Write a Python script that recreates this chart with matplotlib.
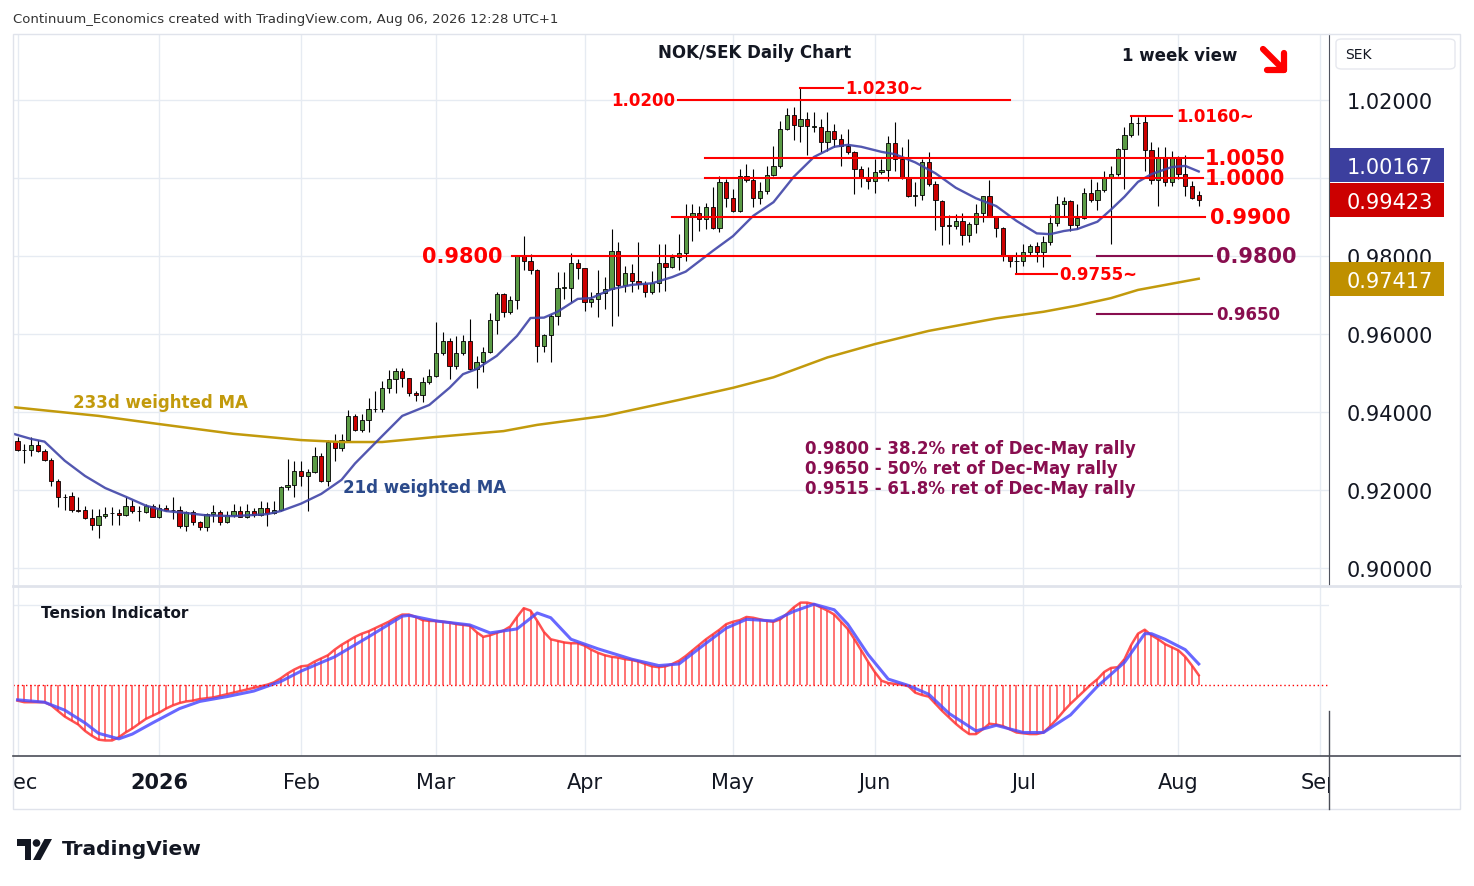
"""NOK/SEK daily chart, TradingView style."""

import matplotlib
matplotlib.use('Agg')
import matplotlib.pyplot as plt
from matplotlib.lines import Line2D
from matplotlib.patches import Rectangle, FancyBboxPatch, Polygon, Circle
import numpy as np
import pandas as pd

# FX trading days on the chart (Xmas / New Year gaps)
holidays = ['2025-12-25', '2025-12-26', '2026-01-01']

opens = [
  0.9325, 0.9303, 0.9303, 0.9315, 0.9299, 0.9278, 0.9222, 0.9182, 0.9184, 0.9148,
  0.9149, 0.9127, 0.9111, 0.9133, 0.9140, 0.9140, 0.9135, 0.9159, 0.9145, 0.9143,
  0.9159, 0.9132, 0.9153, 0.9149, 0.9149, 0.9107, 0.9143, 0.9117, 0.9104, 0.9138,
  0.9143, 0.9117, 0.9135, 0.9145, 0.9131, 0.9145, 0.9135, 0.9155, 0.9141, 0.9148,
  0.9207, 0.9213, 0.9248, 0.9235, 0.9245, 0.9286, 0.9224, 0.9322, 0.9308, 0.9329,
  0.9391, 0.9354, 0.9380, 0.9407, 0.9407, 0.9462, 0.9484, 0.9506, 0.9486, 0.9448,
  0.9444, 0.9478, 0.9492, 0.9550, 0.9581, 0.9517, 0.9550, 0.9581, 0.9509, 0.9527,
  0.9554, 0.9636, 0.9702, 0.9656, 0.9687, 0.9799, 0.9788, 0.9765, 0.9568, 0.9597,
  0.9647, 0.9719, 0.9719, 0.9781, 0.9768, 0.9681, 0.9690, 0.9705, 0.9715, 0.9814,
  0.9726, 0.9756, 0.9735, 0.9728, 0.9707, 0.9730, 0.9782, 0.9771, 0.9797, 0.9808,
  0.9901, 0.9909, 0.9895, 0.9925, 0.9871, 0.9989, 0.9948, 0.9916, 1.0006, 0.9995,
  0.9948, 0.9966, 1.0008, 1.0030, 1.0126, 1.0162, 1.0133, 1.0151, 1.0132, 1.0130,
  1.0091, 1.0121, 1.0100, 1.0083, 1.0066, 1.0023, 1.0000, 0.9993, 1.0016, 1.0020,
  1.0089, 1.0049, 1.0000, 0.9955, 0.9956, 1.0042, 0.9985, 0.9942, 0.9878, 0.9877,
  0.9891, 0.9854, 0.9882, 0.9909, 0.9953, 0.9901, 0.9873, 0.9801, 0.9787, 0.9788,
  0.9809, 0.9825, 0.9809, 0.9837, 0.9884, 0.9933, 0.9942, 0.9880, 0.9897, 0.9961,
  0.9944, 0.9969, 0.9999, 1.0010, 1.0074, 1.0110, 1.0141, 1.0144, 1.0073, 0.9996,
  1.0051, 0.9989, 1.0051, 1.0010, 0.9980, 0.9956]

highs = [
  0.9335, 0.9318, 0.9335, 0.9328, 0.9305, 0.9282, 0.9228, 0.9190, 0.9196, 0.9181,
  0.9159, 0.9151, 0.9151, 0.9157, 0.9157, 0.9151, 0.9181, 0.9175, 0.9159, 0.9164,
  0.9164, 0.9164, 0.9161, 0.9181, 0.9160, 0.9147, 0.9149, 0.9121, 0.9140, 0.9162,
  0.9149, 0.9147, 0.9163, 0.9160, 0.9164, 0.9155, 0.9171, 0.9168, 0.9173, 0.9211,
  0.9280, 0.9275, 0.9275, 0.9254, 0.9309, 0.9296, 0.9328, 0.9343, 0.9344, 0.9405,
  0.9395, 0.9395, 0.9435, 0.9455, 0.9480, 0.9508, 0.9514, 0.9514, 0.9488, 0.9455,
  0.9489, 0.9510, 0.9630, 0.9604, 0.9591, 0.9595, 0.9597, 0.9638, 0.9544, 0.9566,
  0.9654, 0.9707, 0.9704, 0.9698, 0.9801, 0.9852, 0.9805, 0.9767, 0.9599, 0.9651,
  0.9760, 0.9760, 0.9808, 0.9792, 0.9770, 0.9707, 0.9765, 0.9745, 0.9870, 0.9835,
  0.9775, 0.9779, 0.9835, 0.9737, 0.9762, 0.9831, 0.9831, 0.9805, 0.9857, 0.9933,
  0.9933, 0.9929, 0.9936, 0.9976, 1.0006, 0.9998, 0.9972, 1.0023, 1.0036, 1.0023,
  0.9989, 1.0030, 1.0083, 1.0147, 1.0179, 1.0181, 1.0230, 1.0168, 1.0168, 1.0151,
  1.0168, 1.0138, 1.0113, 1.0126, 1.0070, 1.0032, 1.0027, 1.0049, 1.0049, 1.0108,
  1.0143, 1.0079, 1.0100, 0.9989, 1.0049, 1.0066, 0.9993, 0.9944, 0.9905, 0.9908,
  0.9910, 0.9886, 0.9933, 0.9955, 0.9996, 0.9903, 0.9875, 0.9803, 0.9809, 0.9831,
  0.9831, 0.9835, 0.9852, 0.9904, 0.9953, 0.9950, 0.9944, 0.9934, 0.9974, 0.9998,
  0.9989, 1.0019, 1.0032, 1.0076, 1.0130, 1.0160, 1.0156, 1.0161, 1.0093, 1.0079,
  1.0079, 1.0068, 1.0057, 1.0059, 0.9993, 0.9967]

lows = [
  0.9301, 0.9268, 0.9286, 0.9297, 0.9274, 0.9211, 0.9157, 0.9149, 0.9143, 0.9143,
  0.9125, 0.9098, 0.9076, 0.9127, 0.9111, 0.9111, 0.9134, 0.9141, 0.9120, 0.9141,
  0.9130, 0.9127, 0.9145, 0.9126, 0.9102, 0.9096, 0.9111, 0.9098, 0.9096, 0.9117,
  0.9111, 0.9115, 0.9132, 0.9130, 0.9128, 0.9132, 0.9134, 0.9108, 0.9138, 0.9145,
  0.9199, 0.9181, 0.9211, 0.9145, 0.9244, 0.9220, 0.9209, 0.9275, 0.9301, 0.9329,
  0.9350, 0.9348, 0.9348, 0.9399, 0.9399, 0.9448, 0.9448, 0.9463, 0.9442, 0.9429,
  0.9426, 0.9472, 0.9490, 0.9546, 0.9485, 0.9510, 0.9546, 0.9507, 0.9461, 0.9503,
  0.9552, 0.9600, 0.9643, 0.9651, 0.9664, 0.9765, 0.9754, 0.9527, 0.9555, 0.9527,
  0.9622, 0.9691, 0.9681, 0.9741, 0.9660, 0.9668, 0.9643, 0.9664, 0.9621, 0.9645,
  0.9707, 0.9707, 0.9715, 0.9696, 0.9703, 0.9707, 0.9711, 0.9769, 0.9765, 0.9788,
  0.9839, 0.9865, 0.9869, 0.9869, 0.9862, 0.9925, 0.9914, 0.9914, 0.9989, 0.9925,
  0.9933, 0.9959, 1.0006, 1.0025, 1.0124, 1.0098, 1.0093, 1.0059, 1.0117, 1.0066,
  1.0070, 1.0079, 1.0030, 1.0062, 0.9959, 0.9976, 0.9972, 0.9962, 1.0010, 0.9993,
  1.0019, 0.9998, 0.9951, 0.9927, 0.9944, 0.9980, 0.9867, 0.9827, 0.9831, 0.9869,
  0.9829, 0.9836, 0.9860, 0.9886, 0.9899, 0.9848, 0.9788, 0.9771, 0.9756, 0.9775,
  0.9801, 0.9784, 0.9771, 0.9827, 0.9878, 0.9900, 0.9865, 0.9869, 0.9895, 0.9938,
  0.9919, 0.9963, 0.9831, 1.0004, 0.9972, 1.0104, 1.0110, 1.0019, 0.9985, 0.9927,
  0.9980, 0.9980, 0.9998, 0.9953, 0.9946, 0.9929]

closes = [
  0.9303, 0.9302, 0.9315, 0.9299, 0.9276, 0.9222, 0.9181, 0.9181, 0.9149, 0.9147,
  0.9127, 0.9111, 0.9133, 0.9138, 0.9140, 0.9135, 0.9159, 0.9145, 0.9145, 0.9159,
  0.9132, 0.9153, 0.9149, 0.9148, 0.9107, 0.9143, 0.9117, 0.9104, 0.9138, 0.9143,
  0.9117, 0.9135, 0.9145, 0.9131, 0.9145, 0.9135, 0.9155, 0.9141, 0.9148, 0.9207,
  0.9213, 0.9248, 0.9235, 0.9245, 0.9286, 0.9224, 0.9322, 0.9308, 0.9329, 0.9391,
  0.9354, 0.9380, 0.9407, 0.9407, 0.9462, 0.9484, 0.9506, 0.9486, 0.9448, 0.9444,
  0.9478, 0.9492, 0.9550, 0.9581, 0.9517, 0.9550, 0.9581, 0.9509, 0.9527, 0.9554,
  0.9636, 0.9702, 0.9656, 0.9687, 0.9799, 0.9788, 0.9765, 0.9568, 0.9597, 0.9647,
  0.9719, 0.9719, 0.9781, 0.9768, 0.9683, 0.9690, 0.9705, 0.9715, 0.9814, 0.9726,
  0.9756, 0.9735, 0.9728, 0.9707, 0.9730, 0.9782, 0.9771, 0.9797, 0.9808, 0.9901,
  0.9909, 0.9895, 0.9925, 0.9871, 0.9989, 0.9948, 0.9916, 1.0006, 0.9995, 0.9948,
  0.9966, 1.0008, 1.0030, 1.0126, 1.0162, 1.0136, 1.0151, 1.0133, 1.0132, 1.0091,
  1.0121, 1.0100, 1.0083, 1.0066, 1.0023, 1.0000, 0.9993, 1.0016, 1.0020, 1.0089,
  1.0049, 1.0000, 0.9953, 0.9956, 1.0042, 0.9985, 0.9944, 0.9878, 0.9877, 0.9891,
  0.9854, 0.9882, 0.9909, 0.9953, 0.9901, 0.9873, 0.9801, 0.9786, 0.9788, 0.9809,
  0.9825, 0.9809, 0.9837, 0.9884, 0.9933, 0.9942, 0.9880, 0.9897, 0.9961, 0.9944,
  0.9969, 0.9999, 1.0010, 1.0074, 1.0110, 1.0141, 1.0142, 1.0073, 0.9996, 1.0051,
  0.9989, 1.0051, 1.0010, 0.9980, 0.9948, 0.99423]

# 21d weighted MA (bar index, value)
ma21_idx = [-1, 2, 4, 7, 10, 13, 16, 19, 22, 25, 28, 32, 37, 39, 42, 45, 48, 50, 54, 57,
            61, 64, 66, 68, 71, 74, 76, 78, 80, 83, 85, 88, 91, 94, 97, 99, 103, 106, 109, 112,
            115, 118, 121, 123, 125, 128, 130, 133, 136, 139, 142, 145, 148, 151, 153, 155, 157, 160, 162, 164,
            166, 168, 171, 173, 175]
ma21_val = [0.9346, 0.9331, 0.9324, 0.9275, 0.9236, 0.9205, 0.9183, 0.9160, 0.9146, 0.9141,
            0.9135, 0.9133, 0.9138, 0.9146, 0.9165, 0.9190, 0.9226, 0.9268, 0.9338, 0.9390,
            0.9418, 0.9462, 0.9497, 0.9510, 0.9544, 0.9595, 0.9641, 0.9642, 0.9657, 0.9690,
            0.9692, 0.9715, 0.9726, 0.9730, 0.9746, 0.9760, 0.9813, 0.9851, 0.9903, 0.9938,
            1.0003, 1.0054, 1.0080, 1.0085, 1.0080, 1.0067, 1.0061, 1.0040, 1.0012, 0.9975,
            0.9948, 0.9928, 0.9890, 0.9858, 0.9856, 0.9864, 0.9869, 0.9888, 0.9919, 0.9952,
            0.9990, 1.0010, 1.0028, 1.0031, 1.00167]

# 233d weighted MA
ma233_idx = [-1, 12, 21, 32, 42, 48, 54, 62, 72, 77, 87, 98, 106, 112, 120, 127, 135, 145, 152, 157,
             162, 166, 175]
ma233_val = [0.9413, 0.9390, 0.9369, 0.9344, 0.9328, 0.9323, 0.9323, 0.9336, 0.9351, 0.9367,
             0.9390, 0.9431, 0.9462, 0.9489, 0.9540, 0.9574, 0.9608, 0.9640, 0.9657, 0.9673,
             0.9692, 0.9713, 0.97417]

# Tension indicator (histogram value per bar) and its signal line
tension = [
  -0.20, -0.22, -0.22, -0.22, -0.22, -0.26, -0.33, -0.40, -0.45, -0.50,
  -0.58, -0.64, -0.69, -0.70, -0.70, -0.66, -0.60, -0.55, -0.49, -0.43,
  -0.39, -0.35, -0.30, -0.26, -0.23, -0.21, -0.20, -0.18, -0.17, -0.16,
  -0.14, -0.12, -0.10, -0.08, -0.06, -0.04, -0.02, 0.00, 0.03, 0.08,
  0.14, 0.19, 0.23, 0.24, 0.29, 0.33, 0.37, 0.44, 0.50, 0.55,
  0.60, 0.64, 0.67, 0.71, 0.75, 0.79, 0.84, 0.88, 0.88, 0.85,
  0.81, 0.80, 0.80, 0.79, 0.78, 0.76, 0.75, 0.74, 0.66, 0.60,
  0.62, 0.65, 0.68, 0.73, 0.85, 0.96, 0.93, 0.80, 0.66, 0.57,
  0.55, 0.53, 0.52, 0.52, 0.49, 0.44, 0.40, 0.37, 0.35, 0.34,
  0.32, 0.31, 0.29, 0.26, 0.23, 0.22, 0.23, 0.26, 0.30, 0.36,
  0.43, 0.50, 0.57, 0.63, 0.69, 0.76, 0.79, 0.81, 0.85, 0.84,
  0.82, 0.80, 0.79, 0.82, 0.89, 0.97, 1.03, 1.03, 1.01, 0.97,
  0.93, 0.88, 0.79, 0.70, 0.57, 0.43, 0.29, 0.16, 0.05, 0.02,
  0.01, 0.00, -0.02, -0.10, -0.13, -0.15, -0.24, -0.33, -0.41, -0.49,
  -0.56, -0.62, -0.62, -0.56, -0.49, -0.50, -0.52, -0.56, -0.60, -0.61,
  -0.62, -0.62, -0.60, -0.52, -0.43, -0.33, -0.24, -0.16, -0.08, 0.00,
  0.07, 0.16, 0.21, 0.22, 0.32, 0.50, 0.64, 0.69, 0.62, 0.57,
  0.51, 0.47, 0.43, 0.35, 0.24, 0.12]
signal_idx = [0, 4, 7, 10, 12, 15, 17, 20, 24, 27, 31, 35, 39, 42, 47, 52, 57, 58, 62, 67,
              70, 74, 77, 79, 82, 86, 91, 95, 98, 102, 105, 108, 112, 115, 118, 121, 123, 126, 129, 132,
              135, 138, 142, 145, 149, 152, 156, 160, 164, 167, 168, 170, 173, 175]
signal_val = [-0.19, -0.22, -0.32, -0.48, -0.61, -0.68, -0.62, -0.48, -0.30, -0.21,
              -0.15, -0.08, 0.04, 0.17, 0.35, 0.60, 0.86, 0.87, 0.80, 0.75,
              0.65, 0.70, 0.90, 0.84, 0.57, 0.45, 0.32, 0.24, 0.26, 0.52,
              0.71, 0.82, 0.80, 0.92, 1.01, 0.94, 0.76, 0.38, 0.07, -0.01,
              -0.12, -0.36, -0.58, -0.51, -0.60, -0.60, -0.38, -0.02, 0.28, 0.64,
              0.64, 0.57, 0.44, 0.26]

# key levels
resistance = [1.0200, 1.0050, 1.0000]
support = [0.9900, 0.9800]
swing_high = [1.0230, 1.0160]
swing_low = [0.9755]
retrace_val = [0.9800, 0.9650, 0.9515]
retrace_pct = ['38.2%', '50%', '61.8%']

price_ticks = [0.90, 0.92, 0.94, 0.96, 0.98, 1.00, 1.02]


W, H = 1474, 887
RED = '#ff0000'
MAROON = '#880e4f'
GOLD = '#c29a0c'
NAVY = '#4045a8'
GRID = '#e6ebf2'
INK = '#131722'

def fbox(x0, y0, x1, y1):
  # pixel box (top-left origin) -> figure rect
  return [x0/W, 1 - y1/H, (x1-x0)/W, (y1-y0)/H]

def fpt(x, y):
  return x/W, 1 - y/H

def fig_line(pts, **kw):
  xs, ys = zip(*[fpt(*p) for p in pts])
  fig.add_artist(Line2D(xs, ys, transform=fig.transFigure, **kw))


days = pd.bdate_range('2025-12-01', '2026-09-30')
days = days[~days.isin(pd.to_datetime(holidays))]
x = np.arange(len(closes))
month_pos = [i for i in range(len(days)) if i == 0 or days[i].month != days[i-1].month]
month_lab = ['2026' if days[i].month == 1 else days[i].strftime('%b') for i in month_pos]
xlim = (-0.67, 194.3)

fig = plt.figure(figsize=(W/100, H/100), dpi=100)
fig.patch.set_facecolor('white')

# ---------------- main price pane ----------------
ax = fig.add_axes(fbox(13, 35, 1329, 586))
ax.set_xlim(*xlim)
ax.set_ylim(0.89564, 1.03692)
for s in ['top', 'left', 'bottom']:
  ax.spines[s].set_visible(False)
ax.spines['right'].set_color('#50535e')
ax.set_xticks(month_pos)
ax.set_yticks(price_ticks)
ax.yaxis.tick_right()
ax.tick_params(axis='x', length=0, labelbottom=False)
ax.tick_params(axis='y', length=0, pad=13, labelsize=15, labelcolor=INK)
ax.grid(color=GRID, lw=1)
ax.set_axisbelow(True)

o, h, l, c = map(np.array, (opens, highs, lows, closes))
up = c >= o
body_col = np.where(up, '#5b9b45', '#cc0000')
ax.vlines(x, l, h, color='black', lw=0.8, zorder=3)
ax.bar(x, np.maximum(np.abs(c - o), 0.00012), bottom=np.minimum(o, c), width=0.66,
       color=body_col, edgecolor='black', lw=0.6, zorder=4)

ax.plot(ma233_idx, ma233_val, color=GOLD, lw=1.8, zorder=5)
ax.plot(ma21_idx, ma21_val, color=NAVY, lw=1.7, alpha=0.9, zorder=5)

# level lines: (value, start, end, label x, ha, size)
lev_red = [
  (resistance[0], 97.9, 147.0, 97.4, 'right', 12, f'{resistance[0]:.4f}'),
  (resistance[1], 101.9, 175.6, 175.9, 'left', 15, f'{resistance[1]:.4f}'),
  (resistance[2], 101.9, 175.6, 175.9, 'left', 15, f'{resistance[2]:.4f}'),
  (support[0], 96.9, 175.9, 176.6, 'left', 15, f'{support[0]:.4f}'),
  (support[1], 73.3, 155.9, 71.8, 'right', 15, f'{support[1]:.4f}'),
  (swing_high[0], 116.0, 122.3, 122.6, 'left', 12, f'{swing_high[0]:.4f}~'),
  (swing_high[1], 165.0, 171.0, 171.6, 'left', 12, f'{swing_high[1]:.4f}~'),
  (swing_low[0], 147.9, 154.0, 154.4, 'left', 12, f'{swing_low[0]:.4f}~'),
]
for v, a, b, tx, ha, fs, lab in lev_red:
  ax.plot([a, b], [v, v], color=RED, lw=1.5, zorder=6)
  ax.text(tx, v, lab, color=RED, ha=ha, va='center', fontsize=fs, fontweight='bold', zorder=7)

for v, fs in zip(retrace_val[:2], [15, 12]):
  ax.plot([159.9, 177.0], [v, v], color=MAROON, lw=1.5, zorder=6)
  ax.text(177.6, v, f'{v:.4f}', color=MAROON, ha='left', va='center', fontsize=fs,
          fontweight='bold', zorder=7)

for i, (v, pct) in enumerate(zip(retrace_val, retrace_pct)):
  ax.text(0.6018, 0.2486 - i*0.0363, f'{v:.4f} - {pct} ret of Dec-May rally', transform=ax.transAxes,
          color=MAROON, fontsize=12, fontweight='bold', va='center', ha='left')

ax.text(21.1, 0.9426, '233d weighted MA', color=GOLD, fontsize=12, fontweight='bold',
        ha='center', va='center')
ax.text(48.2, 0.9208, '21d weighted MA', color='#2b4a8b', fontsize=12, fontweight='bold',
        ha='left', va='center')

# ---------------- tension indicator pane ----------------
ax2 = fig.add_axes(fbox(13, 588, 1329, 757))
ax2.set_xlim(*xlim)
ax2.set_ylim(-0.895, 1.226)
for s in ax2.spines.values():
  s.set_visible(False)
ax2.set_xticks(month_pos)
ax2.set_yticks([1.0])
ax2.tick_params(length=0, labelbottom=False, labelleft=False)
ax2.grid(color=GRID, lw=1)
ax2.set_axisbelow(True)
ax2.vlines(x, 0, tension, color='#ff4d4d', lw=1.3, alpha=0.85)
ax2.plot(x, tension, color='#ff3333', lw=1.8, alpha=0.85)
ax2.plot(signal_idx, signal_val, color='#4d4dff', lw=2.2, alpha=0.85)
ax2.axhline(0, color=RED, lw=1, ls=(0, (1, 2)))
ax2.text(0.021, 0.85, 'Tension Indicator', transform=ax2.transAxes, fontsize=11,
         fontweight='bold', color=INK, va='center')

# ---------------- time axis ----------------
tax = fig.add_axes(fbox(13, 757, 1329, 810))
tax.set_xlim(*xlim)
tax.set_ylim(0, 1)
tax.axis('off')
for p, lab in zip(month_pos, month_lab):
  tax.text(p, 0.5, lab, ha='center', va='center', fontsize=15, color=INK, clip_on=True,
           fontweight='bold' if lab == '2026' else 'normal')

# ---------------- frame, separators ----------------
fig.add_artist(Rectangle(fpt(13, 810), 1447/W, 775/H, transform=fig.transFigure,
                         fill=False, edgecolor='#e0e3eb', lw=1))
fig_line([(13, 587), (1460, 587)], color='#e0e3eb', lw=2)
fig_line([(13, 757), (1460, 757)], color='#4a4d57', lw=1.2)
fig_line([(1329, 712), (1329, 810)], color='#4a4d57', lw=1.0)

# last value boxes on the price scale (blue pushed up so it clears the red one)
def disp_y(v):
  return ax.transData.transform((0, v))[1]

y_red = disp_y(closes[-1])
y_blue = max(disp_y(ma21_val[-1]), y_red + 35)
y_gold = disp_y(ma233_val[-1])
boxes = [(y_blue, ma21_val[-1], '#3c3f9e'), (y_red, closes[-1], '#cc0000'),
         (y_gold, ma233_val[-1], '#bf9000')]
for yc, v, col in boxes:
  fig.add_artist(Rectangle((1330/W, (yc - 17)/H), 114/W, 34/H, transform=fig.transFigure,
                           color=col, lw=0))
  fig.text(1390/W, yc/H, f'{v:.5f}', ha='center', va='center_baseline', fontsize=15, color='white')

# scale labels hidden when they sit inside a value box
ax.set_yticklabels(['' if any(abs(disp_y(p) - b[0]) < 17 for b in boxes) else f'{p:.5f}'
                    for p in price_ticks])

fig.add_artist(FancyBboxPatch(fpt(1336, 70), 119/W, 30/H, boxstyle='round,pad=0,rounding_size=0.004',
                              transform=fig.transFigure, facecolor='white', edgecolor='#e6e8ee', lw=1))
fig.text(1345/W, 1 - 55/H, 'SEK', fontsize=10, color=INK, va='center')

# header / titles
fig.text(13/W, 1 - 19/H, 'Continuum_Economics created with TradingView.com, Aug 06, 2026 12:28 UTC+1',
         fontsize=9.5, color='#333333', va='center')
fig.text(755/W, 1 - 53/H, 'NOK/SEK Daily Chart', ha='center', va='center', fontsize=12,
         fontweight='bold', color=INK)
fig.text(1180/W, 1 - 56/H, '1 week view', ha='center', va='center', fontsize=12,
         fontweight='bold', color=INK)

# red "down" arrow
arrow_kw = dict(color='#ff0000', lw=4.5, solid_capstyle='round', solid_joinstyle='round')
fig_line([(1263, 50), (1284, 71)], **arrow_kw)
fig_line([(1284, 54), (1284, 71), (1267, 71)], **arrow_kw)

# TradingView logo
lax = fig.add_axes(fbox(17, 840, 53, 861))
lax.set_xlim(0, 36)
lax.set_ylim(0, 21)
lax.axis('off')
lax.add_patch(Polygon([(0, 21), (14, 21), (14, 0), (7.5, 0), (7.5, 14), (0, 14)], color=INK, lw=0))
lax.add_patch(Circle((19.5, 17), 3.8, color=INK, lw=0))
lax.add_patch(Polygon([(16, 0), (23.5, 0), (35, 21), (27.5, 21)], color=INK, lw=0))
fig.text(62/W, 1 - 850/H, 'TradingView', fontsize=14.5, fontweight='bold', color=INK, va='center')

fig.savefig('out.png', dpi=100)
